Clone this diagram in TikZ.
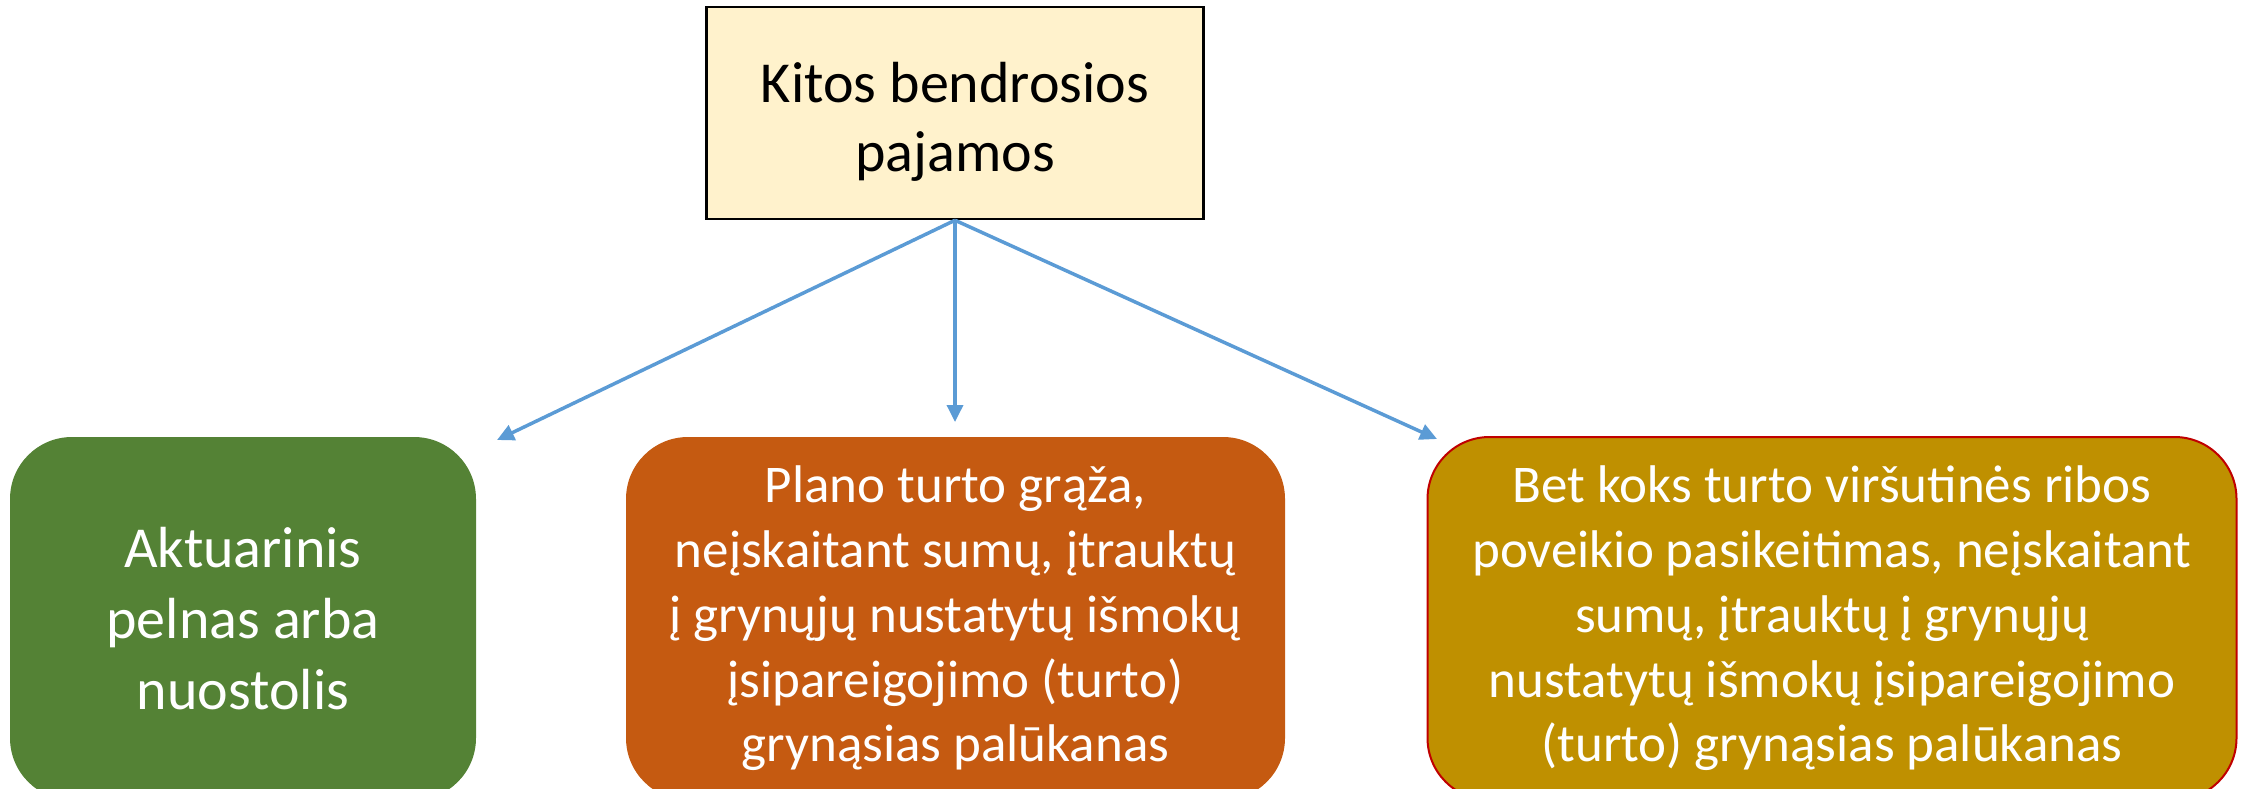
\documentclass[tikz,border=0pt]{standalone}
\usepackage{fontspec}
\setmainfont{Carlito}
\usetikzlibrary{arrows.meta}
\definecolor{topfill}{HTML}{FFF2CC}
\definecolor{greenbox}{HTML}{548235}
\definecolor{orangebox}{HTML}{C55A11}
\definecolor{goldbox}{HTML}{BF9000}
\definecolor{redline}{HTML}{C00000}
\definecolor{arrowblue}{HTML}{5B9BD5}
\tikzset{
  topbox/.style={draw=black, line width=2.5pt, fill=topfill, minimum width=497pt, minimum height=212pt, inner sep=0pt},
  toptextstyle/.style={align=center, inner sep=0pt, font=\fontsize{58}{69}\selectfont},
  lowbox/.style={rounded corners=62pt, minimum height=363pt, inner sep=0pt, align=center, text=white, font=\fontsize{53}{64.7}\selectfont},
  conn/.style={draw=arrowblue, line width=3.5pt, -{Triangle[length=17pt,width=16pt]}}
}
\begin{document}
\begin{tikzpicture}[x=1pt,y=-1pt]
\useasboundingbox (0,0) rectangle (2241,788);
\node[topbox] (top) at (955,113) {};
\node[toptextstyle] (toptext) at (955,122) {Kitos bendrosios\\pajamos};
\node[lowbox, fill=greenbox, minimum width=466pt, font=\fontsize{58}{70.7}\selectfont] (left) at (243,618.5) {Aktuarinis\\pelnas arba\\nuostolis};
\node[lowbox, fill=orangebox, minimum width=659pt] (mid) at (955.5,618.5) {Plano turto grąža,\\neįskaitant sumų, įtrauktų\\į grynųjų nustatytų išmokų\\įsipareigojimo (turto)\\grynąsias palūkanas};
\node[lowbox, fill=goldbox, draw=redline, line width=2pt, minimum width=809pt] (right) at (1832,618.5) {Bet koks turto viršutinės ribos\\poveikio pasikeitimas, neįskaitant\\sumų, įtrauktų į grynųjų\\nustatytų išmokų įsipareigojimo\\(turto) grynąsias palūkanas};
\coordinate (tl) at (497,440);
\coordinate (tm) at (955,422);
\coordinate (tr) at (1437,439);
\draw[conn] (top.south) -- (tl);
\draw[conn] (top.south) -- (tm);
\draw[conn] (top.south) -- (tr);
\end{tikzpicture}
\end{document}
